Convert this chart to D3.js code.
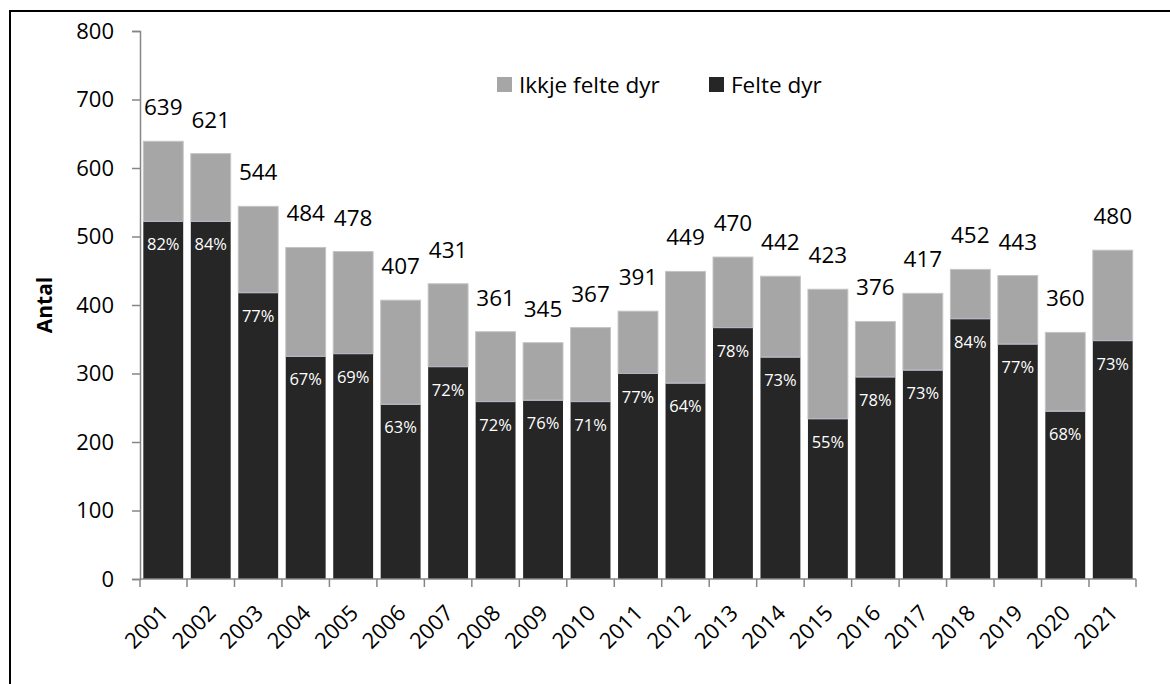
<!DOCTYPE html>
<html>
<head>
<meta charset="utf-8">
<script src="https://cdn.jsdelivr.net/npm/d3@7"></script>
<style>
  html, body { margin: 0; padding: 0; background: #fff; }
  svg { display: block; font-family: 'Open Sans', 'Noto Sans', sans-serif; }
</style>
</head>
<body>
<div id="viz"></div>
<script>
const years = ['2001', '2002', '2003', '2004', '2005', '2006', '2007', '2008', '2009', '2010', '2011',
  '2012', '2013', '2014', '2015', '2016', '2017', '2018', '2019', '2020', '2021'];
const felte = [522, 522, 418, 325, 329, 255, 310, 259, 261, 259, 300, 286, 367, 324, 234, 295, 305, 380, 343, 245, 348];
const ikkjeFelte = [117, 99, 126, 159, 149, 152, 121, 102, 84, 108, 91, 163, 103, 118, 189, 81, 112, 72, 100, 115, 132];
const totals = [639, 621, 544, 484, 478, 407, 431, 361, 345, 367, 391, 449, 470, 442, 423, 376, 417, 452, 443, 360, 480];
const percents = ['82%', '84%', '77%', '67%', '69%', '63%', '72%', '72%', '76%', '71%', '77%',
  '64%', '78%', '73%', '55%', '78%', '73%', '84%', '77%', '68%', '73%'];
const yTicks = [0, 100, 200, 300, 400, 500, 600, 700, 800];

const width = 1170, height = 684;
const colors = { felte: '#262626', ikkje: '#a6a6a6', axis: '#868686' };

const svg = d3.select('#viz').append('svg')
  .attr('width', width)
  .attr('height', height);

// outer frame (runs past the right and bottom edges)
svg.append('rect')
  .attr('x', 10).attr('y', 11)
  .attr('width', width + 20).attr('height', height + 20)
  .attr('fill', 'none').attr('stroke', '#000').attr('stroke-width', 2);

const x = d3.scaleBand().domain(years).range([140, 1136]).paddingInner(0.16).paddingOuter(0.07);
const y = d3.scaleLinear().domain([0, 800]).range([579, 31]);

const rows = years.map((yr, i) => ({
  year: yr, felte: felte[i], ikkje: ikkjeFelte[i], total: totals[i], pct: percents[i],
}));

// bars
const g = svg.append('g');
g.selectAll('rect.felte')
  .data(rows)
  .join('rect')
  .attr('class', 'felte')
  .attr('x', (d) => x(d.year))
  .attr('width', x.bandwidth())
  .attr('y', (d) => y(d.felte))
  .attr('height', (d) => y(0) - y(d.felte))
  .attr('fill', colors.felte);

g.selectAll('rect.ikkje')
  .data(rows)
  .join('rect')
  .attr('class', 'ikkje')
  .attr('x', (d) => x(d.year))
  .attr('width', x.bandwidth())
  .attr('y', (d) => y(d.felte + d.ikkje))
  .attr('height', (d) => y(d.felte) - y(d.felte + d.ikkje))
  .attr('fill', colors.ikkje)
  .attr('stroke', '#c4c4c4')
  .attr('stroke-width', 1);

// boundary line between segments
g.selectAll('line.sep')
  .data(rows)
  .join('line')
  .attr('class', 'sep')
  .attr('x1', (d) => x(d.year)).attr('x2', (d) => x(d.year) + x.bandwidth())
  .attr('y1', (d) => y(d.felte)).attr('y2', (d) => y(d.felte))
  .attr('stroke', '#b9b0c6').attr('stroke-width', 1);

// y axis
const yAxis = svg.append('g')
  .attr('transform', 'translate(140,0)')
  .call(d3.axisLeft(y).tickValues(yTicks).tickSize(8).tickPadding(18).tickFormat(d3.format('d')));
yAxis.select('.domain').attr('stroke', colors.axis).attr('stroke-width', 1.5);
yAxis.selectAll('.tick line').attr('stroke', colors.axis).attr('stroke-width', 1.5);
yAxis.selectAll('.tick text').attr('font-size', 22).attr('fill', '#000')
  .attr('font-family', "'Open Sans', sans-serif");

// x axis line and boundary ticks
const step = x.step();
const gap = step * x.paddingInner();
const boundaries = years.map((yr) => x(yr) - gap / 2).concat([1136]);
boundaries[0] = 140;
svg.append('line')
  .attr('x1', 140).attr('x2', 1136)
  .attr('y1', y(0)).attr('y2', y(0))
  .attr('stroke', colors.axis).attr('stroke-width', 1.5);
svg.append('g').selectAll('line')
  .data(boundaries)
  .join('line')
  .attr('x1', (d) => d).attr('x2', (d) => d)
  .attr('y1', y(0)).attr('y2', y(0) + 8)
  .attr('stroke', colors.axis).attr('stroke-width', 1.5);

// x labels, rotated
svg.append('g').selectAll('text')
  .data(years)
  .join('text')
  .attr('transform', (d) => `translate(${x(d) + x.bandwidth() / 2 + 1},${y(0) + 30}) rotate(-45)`)
  .attr('text-anchor', 'end')
  .attr('dy', '0.35em')
  .attr('font-size', 22)
  .text((d) => d);

// total labels
svg.append('g').selectAll('text')
  .data(rows)
  .join('text')
  .attr('x', (d) => x(d.year) + x.bandwidth() / 2)
  .attr('y', (d) => y(d.total) - 26)
  .attr('text-anchor', 'middle')
  .attr('font-size', 22.5)
  .text((d) => d.total);

// percent labels
svg.append('g').selectAll('text')
  .data(rows)
  .join('text')
  .attr('x', (d) => x(d.year) + x.bandwidth() / 2)
  .attr('y', (d) => y(d.felte) + 29)
  .attr('text-anchor', 'middle')
  .attr('font-size', 16.5)
  .attr('fill', '#fff')
  .text((d) => d.pct);

// y title
svg.append('text')
  .attr('transform', 'translate(52,305) rotate(-90)')
  .attr('text-anchor', 'middle')
  .attr('font-size', 21)
  .attr('font-weight', 'bold')
  .text('Antal');

// legend
const legend = [
  { label: 'Ikkje felte dyr', color: colors.ikkje, x: 497 },
  { label: 'Felte dyr', color: colors.felte, x: 709 },
];
const lg = svg.append('g').selectAll('g')
  .data(legend)
  .join('g')
  .attr('transform', (d) => `translate(${d.x},77)`);
lg.append('rect').attr('width', 15).attr('height', 15).attr('fill', (d) => d.color);
lg.append('text')
  .attr('x', 22).attr('y', 7.5).attr('dy', '0.36em')
  .attr('font-size', 22.5)
  .text((d) => d.label);
</script>
</body>
</html>
